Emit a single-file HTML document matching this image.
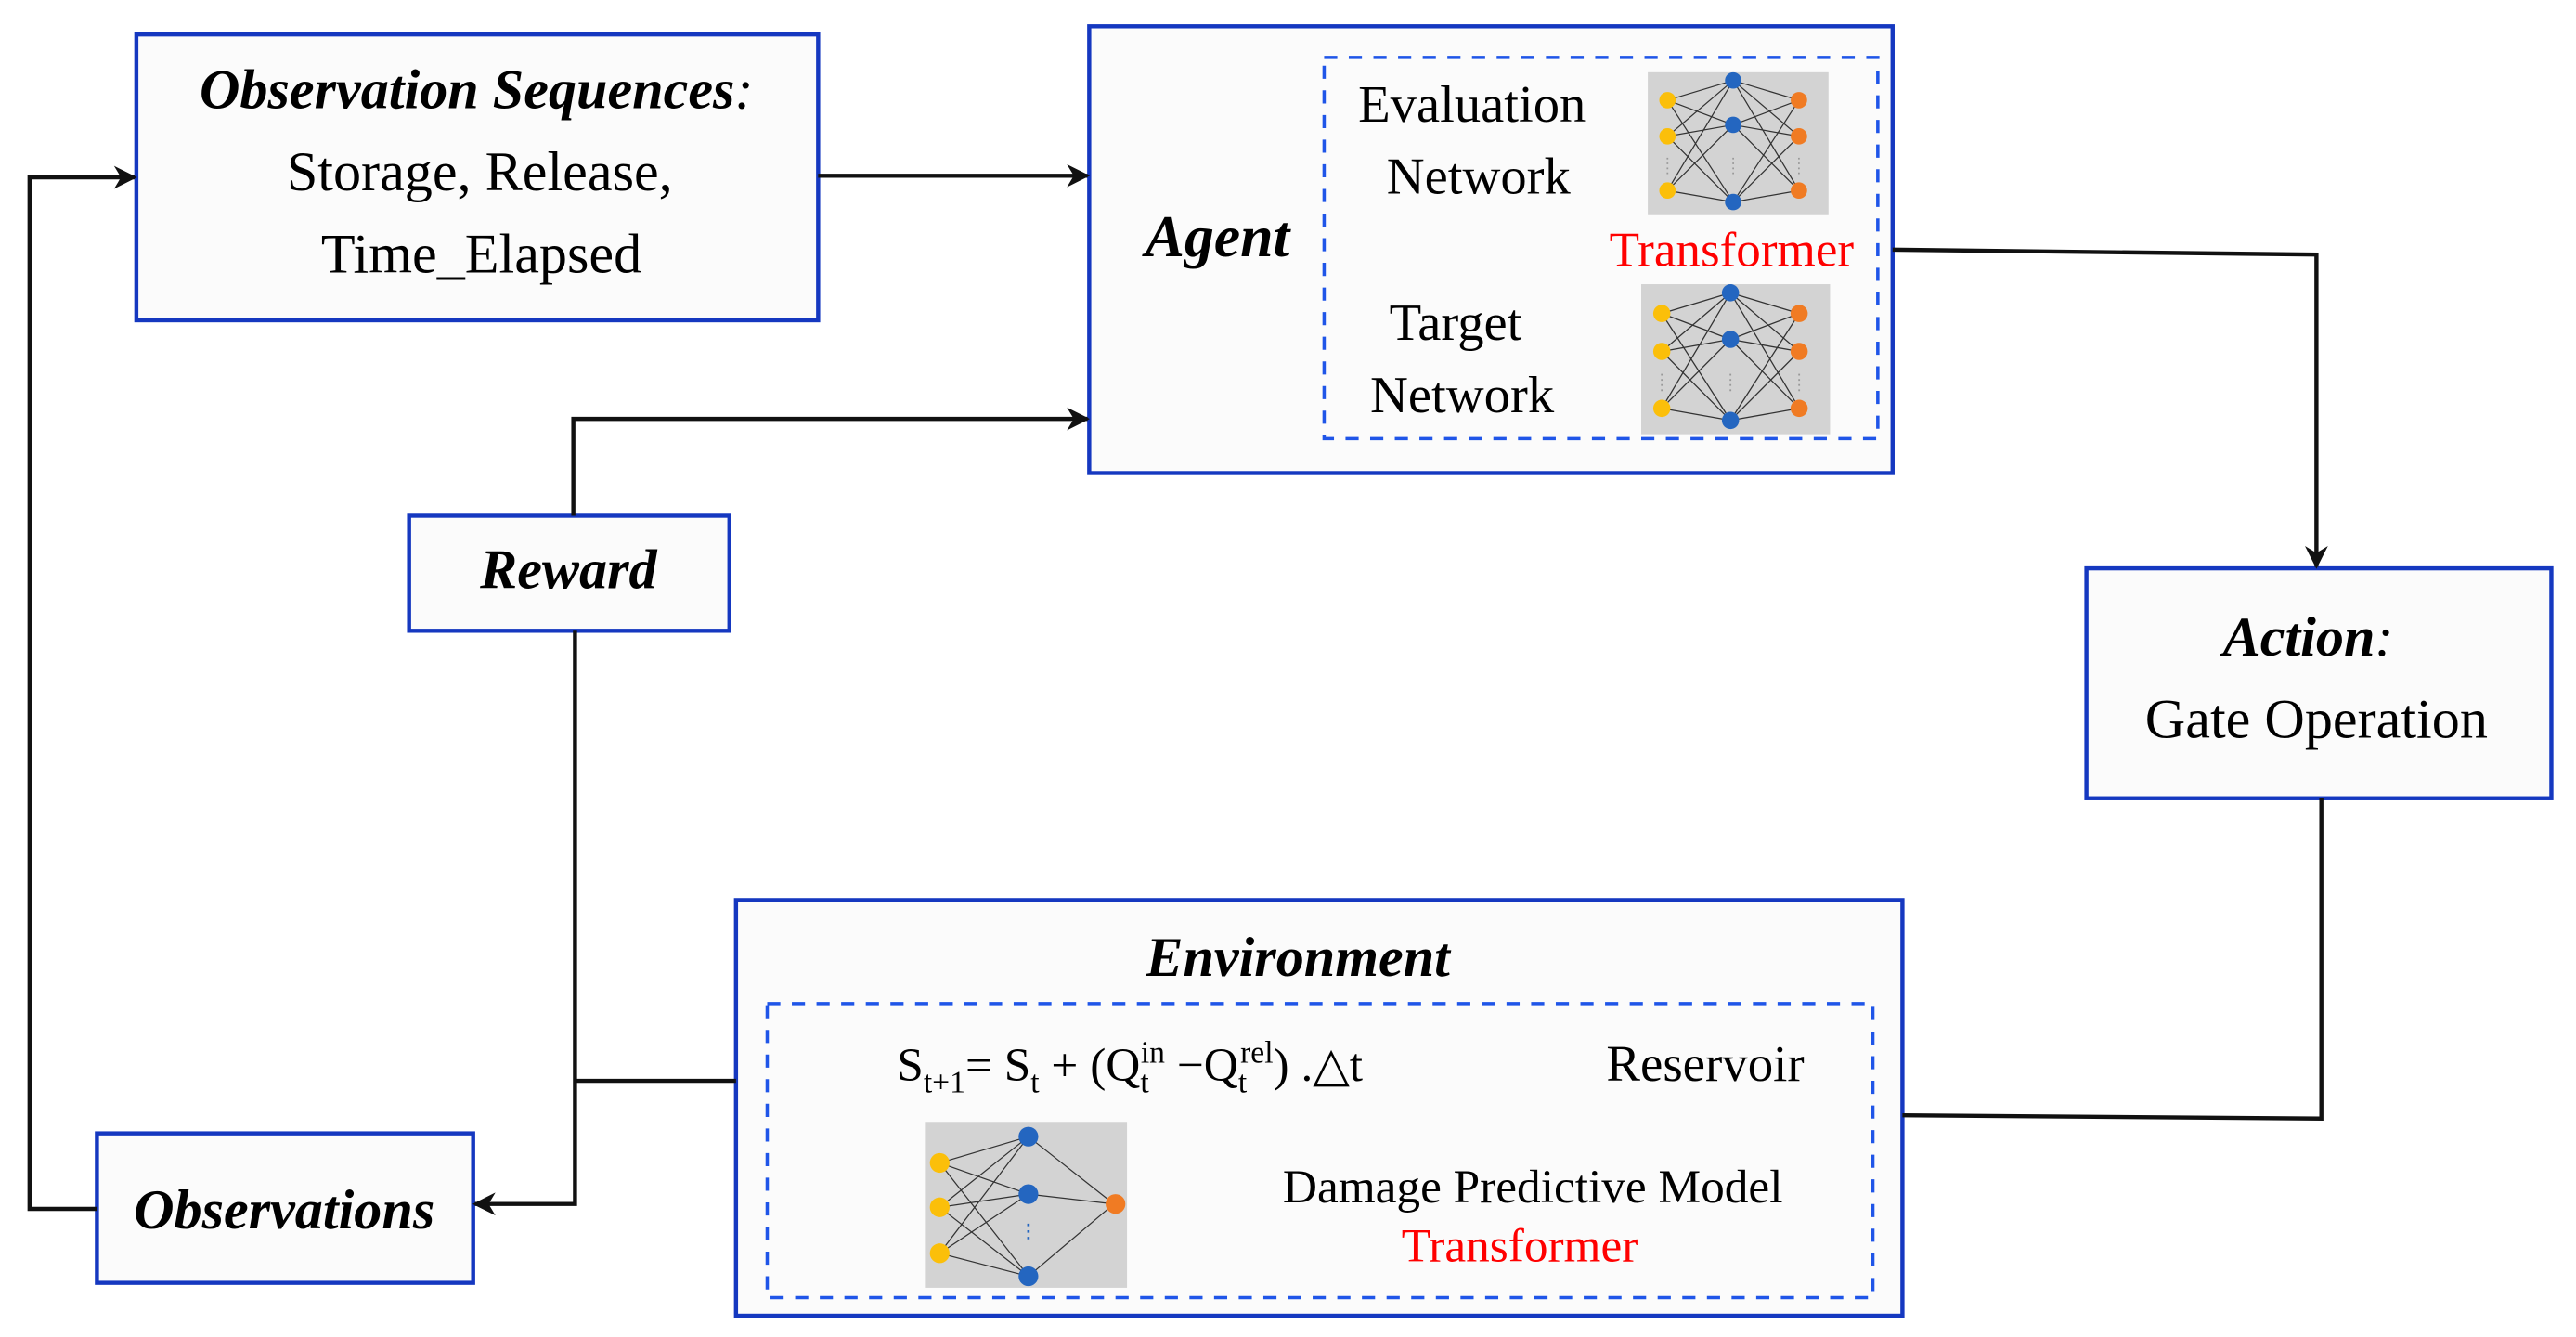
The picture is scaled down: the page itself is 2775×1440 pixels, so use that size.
<!DOCTYPE html>
<html><head><meta charset="utf-8"><style>
html,body{margin:0;padding:0;background:#fff;}
svg{display:block;}
svg text{font-family:"Liberation Serif","Times New Roman",Times,serif;fill:#000;}
.b{font-weight:bold;font-style:italic;}
</style></head><body>
<svg width="2775" height="1440" viewBox="0 0 1568 814" preserveAspectRatio="none" xmlns="http://www.w3.org/2000/svg" font-family="Liberation Serif, Times New Roman, serif">
<defs>
<marker id="ar" viewBox="0 0 10 10" refX="9" refY="5" markerWidth="18" markerHeight="14" markerUnits="userSpaceOnUse" orient="auto"><path d="M0,0 L10,5 L0,10 L3,5z" fill="#111"/></marker>
<g id="nn">
<rect x="0" y="0" width="110" height="87" fill="#d3d3d3"/>
<g stroke="#333" stroke-width="0.7">
<path d="M12,17L52,5M12,17L52,32M12,17L52,79M12,39L52,5M12,39L52,32M12,39L52,79M12,72L52,5M12,72L52,32M12,72L52,79"/>
<path d="M92,17L52,5M92,17L52,32M92,17L52,79M92,39L52,5M92,39L52,32M92,39L52,79M92,72L52,5M92,72L52,32M92,72L52,79"/>
</g>
<g fill="#fbbf0a"><circle cx="12" cy="17" r="5"/><circle cx="12" cy="39" r="5"/><circle cx="12" cy="72" r="5"/></g>
<g fill="#2466c0"><circle cx="52" cy="5" r="5"/><circle cx="52" cy="32" r="5"/><circle cx="52" cy="79" r="5"/></g>
<g fill="#f07b23"><circle cx="92" cy="17" r="5"/><circle cx="92" cy="39" r="5"/><circle cx="92" cy="72" r="5"/></g>
<path d="M12,52v10M52,52v10M92,52v10" stroke-dasharray="1,2" stroke-width="1" stroke="#999"/>
</g>
</defs>
<rect width="1568" height="814" fill="#fff"/>

<g fill="#fbfbfb" stroke="#1538c0" stroke-width="2.5">
<rect x="83" y="21" width="415" height="174"/>
<rect x="663" y="16" width="489" height="272"/>
<rect x="249" y="314" width="195" height="70"/>
<rect x="1270" y="346" width="283" height="140"/>
<rect x="448" y="548" width="710" height="253"/>
<rect x="59" y="690" width="229" height="91"/>
</g>
<g fill="none" stroke="#1f55e8" stroke-width="2" stroke-dasharray="8,7">
<rect x="806" y="35" width="337" height="232"/>
<rect x="467" y="611" width="673" height="179"/>
</g>

<g fill="none" stroke="#111" stroke-width="2.5">
<path d="M498,107H662" marker-end="url(#ar)"/>
<path d="M349,314V255H662" marker-end="url(#ar)"/>
<path d="M1152,152L1410,155V345" marker-end="url(#ar)"/>
<path d="M1413,486V681L1158,679"/>
<path d="M448,658H350"/>
<path d="M350,384V733H289" marker-end="url(#ar)"/>
<path d="M59,736H18V108H82" marker-end="url(#ar)"/>
</g>

<text x="290" y="66" font-size="34" text-anchor="middle"><tspan class="b">Observation Sequences</tspan><tspan font-style="italic">:</tspan></text>
<text x="292" y="116" font-size="34" text-anchor="middle">Storage, Release,</text>
<text x="293" y="166" font-size="34" text-anchor="middle">Time_Elapsed</text>

<text x="741" y="156" font-size="36" text-anchor="middle" class="b">Agent</text>
<text x="896" y="74" font-size="32" text-anchor="middle">Evaluation</text>
<text x="900" y="118" font-size="32" text-anchor="middle">Network</text>
<use href="#nn" transform="translate(1003,44)"/>
<text x="1054" y="162" font-size="30" text-anchor="middle" style="fill:#f00">Transformer</text>
<text x="886" y="207" font-size="32" text-anchor="middle">Target</text>
<text x="890" y="251" font-size="32" text-anchor="middle">Network</text>
<use href="#nn" transform="translate(999,173) scale(1.045,1.05)"/>

<text x="346" y="358" font-size="34" text-anchor="middle" class="b">Reward</text>

<text x="1405" y="399" font-size="34" text-anchor="middle"><tspan class="b">Action</tspan><tspan font-style="italic">:</tspan></text>
<text x="1410" y="449" font-size="34" text-anchor="middle">Gate Operation</text>

<text x="790" y="594" font-size="34" text-anchor="middle" class="b">Environment</text>
<text x="546" y="658" font-size="29">S<tspan font-size="19" dy="7">t+1</tspan><tspan dy="-7">= S</tspan><tspan font-size="19" dy="7">t</tspan><tspan dy="-7"> + (Q</tspan><tspan font-size="19" dy="7">t</tspan><tspan font-size="19" dx="-5" dy="-18">in</tspan><tspan dy="11"> −Q</tspan><tspan font-size="19" dy="7">t</tspan><tspan font-size="19" dx="-4" dy="-18">rel</tspan><tspan dy="11">) .△t</tspan></text>
<text x="1038" y="658" font-size="31" text-anchor="middle">Reservoir</text>
<rect x="563" y="683" width="123" height="101" fill="#d3d3d3"/>
<g stroke="#333" stroke-width="0.7">
<path d="M572,708L626,692M572,708L626,727M572,708L626,777M572,735L626,692M572,735L626,727M572,735L626,777M572,763L626,692M572,763L626,727M572,763L626,777M678,733L626,692M678,733L626,727M678,733L626,777"/>
</g>
<g fill="#fbbf0a"><circle cx="572" cy="708" r="6"/><circle cx="572" cy="735" r="6"/><circle cx="572" cy="763" r="6"/></g>
<g fill="#2466c0"><circle cx="626" cy="692" r="6"/><circle cx="626" cy="727" r="6"/><circle cx="626" cy="777" r="6"/></g>
<circle cx="679" cy="733" r="6" fill="#f07b23"/>
<path d="M626,745v12" stroke="#2466c0" stroke-dasharray="1.5,2.5" stroke-width="1.5"/>
<text x="933" y="732" font-size="29" text-anchor="middle">Damage Predictive Model</text>
<text x="925" y="768" font-size="29" text-anchor="middle" style="fill:#f00">Transformer</text>

<text x="173" y="748" font-size="34" text-anchor="middle" class="b">Observations</text>
</svg>
</body></html>
